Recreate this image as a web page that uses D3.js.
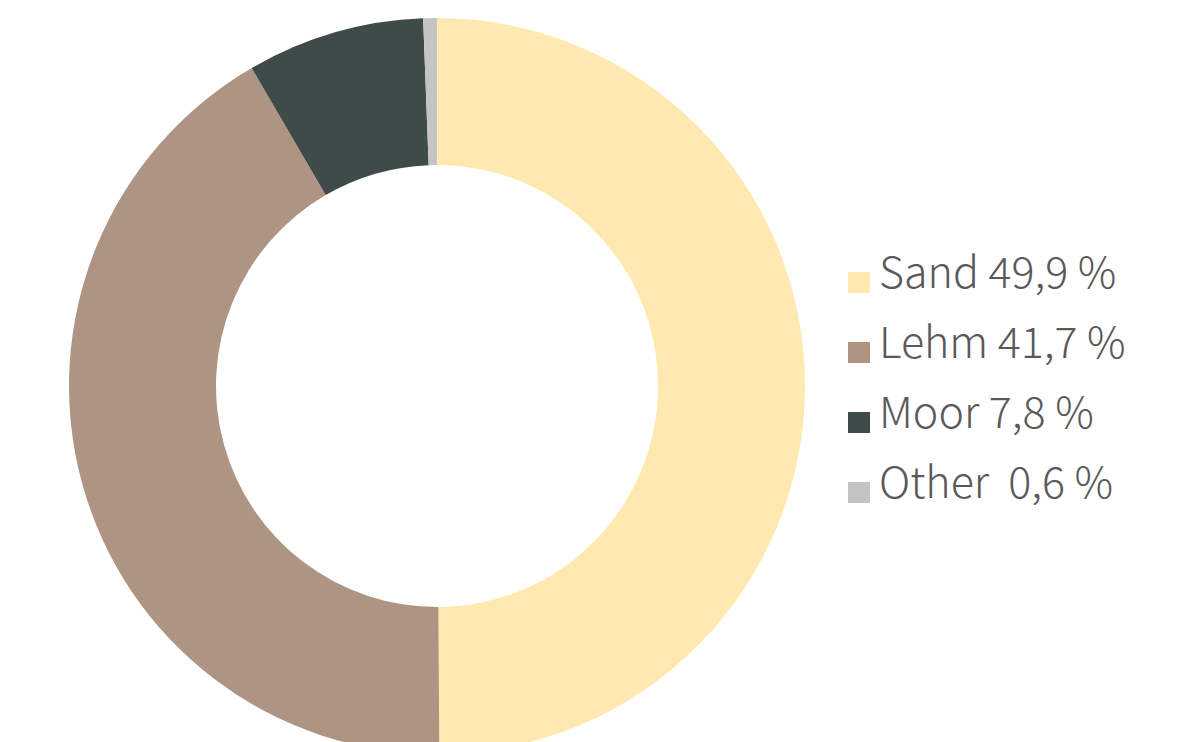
<!DOCTYPE html>
<html>
<head>
    <script src="https://d3js.org/d3.v7.min.js"></script>
    <style>
        body { margin: 0; background: #fff; overflow: hidden; }
        svg { display: block; }
        .legend text {
            font-family: "Noto Sans CJK JP", "Noto Sans", sans-serif;
            font-size: 43px;
            font-weight: 300;
            fill: #595959;
            white-space: pre;
        }
    </style>
</head>
<body>
    <svg id="chart" width="1204" height="742"></svg>
    <script>
        // Soil types and shares (%)
        const categories = ["Sand", "Lehm", "Moor", "Other"];
        const values = [49.9, 41.7, 7.8, 0.6];
        const labels = ["Sand 49,9 %", "Lehm 41,7 %", "Moor 7,8 %", "Other  0,6 %"];
        const colors = ["#FFE9B1", "#AE9483", "#3E4B48", "#C4C4C4"];

        const svg = d3.select("#chart");
        const cx = 437, cy = 386;
        const outerR = 368, innerR = 221;

        const color = d3.scaleOrdinal().domain(categories).range(colors);

        const pie = d3.pie().sort(null).value(d => d.value);
        const arc = d3.arc().innerRadius(innerR).outerRadius(outerR);

        const data = categories.map((c, i) => ({ name: c, value: values[i] }));

        svg.append("g")
            .attr("transform", `translate(${cx},${cy})`)
            .selectAll("path")
            .data(pie(data))
            .join("path")
            .attr("d", arc)
            .attr("fill", d => color(d.data.name));

        // legend
        const legendY = d3.scaleBand()
            .domain(categories)
            .range([247, 527]);

        const legend = svg.append("g").attr("class", "legend")
            .selectAll("g")
            .data(categories)
            .join("g")
            .attr("transform", d => `translate(848,${legendY(d)})`);

        legend.append("rect")
            .attr("x", 0)
            .attr("y", 25)
            .attr("width", 22)
            .attr("height", 21)
            .attr("fill", d => color(d));

        legend.append("text")
            .attr("x", 31)
            .attr("y", 41)
            .text((d, i) => labels[i]);
    </script>
</body>
</html>
